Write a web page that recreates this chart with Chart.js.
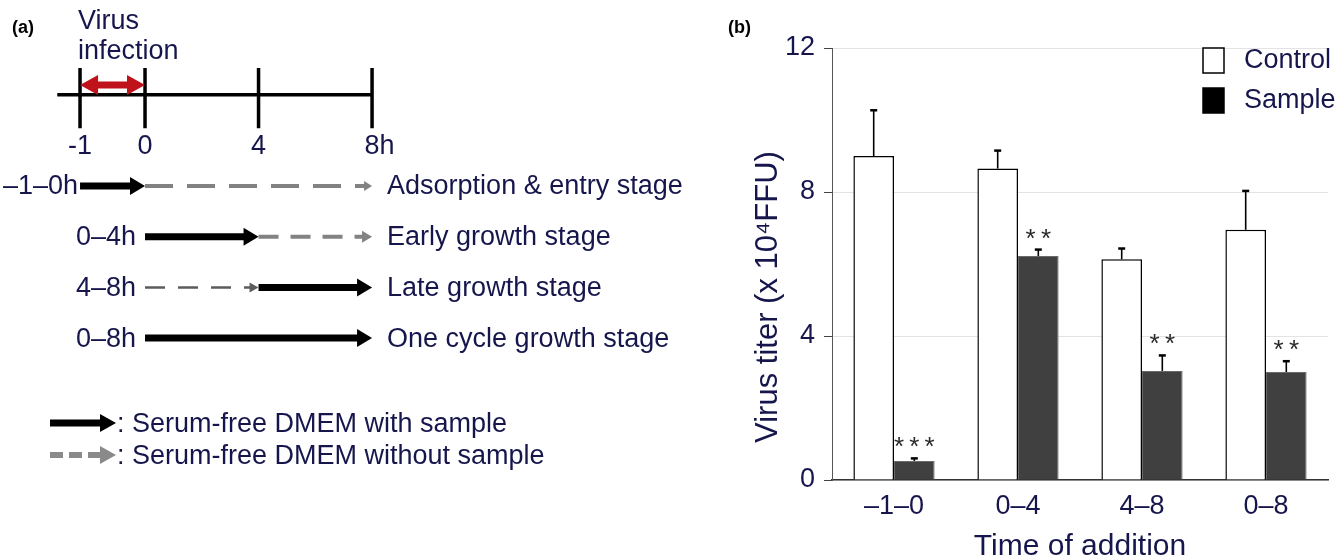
<!DOCTYPE html>
<html>
<head>
<meta charset="utf-8">
<script src="https://cdn.jsdelivr.net/npm/chart.js@4.4.1/dist/chart.umd.min.js"></script>
<style>
  html, body { margin: 0; padding: 0; background: #fff; overflow: hidden; }
  #wrap { position: relative; width: 1335px; height: 557px; }
  #chartA { position: absolute; left: 0; top: 0; }
  #chartB { position: absolute; left: 720px; top: 0; }
</style>
</head>
<body>
<div id="wrap">
  <canvas id="chartA" width="720" height="557" style="width:720px;height:557px"></canvas>
  <canvas id="chartB" width="615" height="570" style="width:615px;height:570px"></canvas>
</div>
<script>
// ---- panel (b) data ----
const periods = ['–1–0', '0–4', '4–8', '0–8']
const controlTiter = [9.0, 8.65, 6.13, 6.95]
const controlErr = [1.27, 0.5, 0.3, 1.08]
const sampleTiter = [0.53, 6.22, 3.03, 3.0]
const sampleErr = [0.07, 0.18, 0.43, 0.3]
const sampleSig = ['***', '**', '**', '**']
const titerTicks = [0, 4, 8, 12]

// ---- panel (a) data ----
const timePoints = [-1, 0, 4, 8]
const timeLabels = ['-1', '0', '4', '8h']
const stageNames = ['Adsorption & entry stage', 'Early growth stage', 'Late growth stage', 'One cycle growth stage']
const stageTimes = ['–1–0h', '0–4h', '4–8h', '0–8h']
const withSample = [[-1, 0], [0, 4], [4, 8], [0, 8]]
const withoutSample = [[0, 8], [4, 8], [0, 4], null]

const NAVY = '#16164d'
const FAMILY = "'Liberation Sans', Arial, Helvetica, sans-serif"
Chart.defaults.font.family = FAMILY

// the hour before infection is drawn wider than the hours after it
const PRE = 2.29
const pos = h => h < 0 ? h * PRE : h
const timelineY = -0.8
const rowY = [1, 2, 3, 4]

// shortens arrow lines so the head sits on the tip, then draws the heads
const arrowHeads = {
  id: 'arrowHeads',
  afterDatasetsUpdate(chart) {
    chart.data.datasets.forEach((ds, i) => {
      if (!ds.arrow) return
      const pts = chart.getDatasetMeta(i).data
      const a = pts[0], b = pts[pts.length - 1]
      ds.arrow.tip = {x: b.x, y: b.y}
      ds.arrow.tail = {x: a.x, y: a.y}
      const dir = Math.sign(b.x - a.x)
      b.x -= dir * (ds.arrow.len - 2)
      if (ds.arrow.both) a.x += dir * (ds.arrow.len - 2)
    })
  },
  afterDatasetsDraw(chart) {
    const ctx = chart.ctx
    const tri = (p, dir, len, half, color) => {
      ctx.beginPath()
      ctx.moveTo(p.x, p.y)
      ctx.lineTo(p.x - dir * len, p.y - half)
      ctx.lineTo(p.x - dir * len, p.y + half)
      ctx.closePath()
      ctx.fillStyle = color
      ctx.fill()
    }
    chart.data.datasets.forEach(ds => {
      if (!ds.arrow) return
      const {tip, tail, len, half, both} = ds.arrow
      const dir = Math.sign(tip.x - tail.x)
      tri(tip, dir, len, half, ds.borderColor)
      if (both) tri(tail, -dir, len, half, ds.borderColor)
    })
  }
}

function drawArrowGlyph(ctx, x0, x1, y, dashed) {
  ctx.save()
  if (dashed) {
    ctx.strokeStyle = '#8a8a8a'
    ctx.fillStyle = '#8a8a8a'
    ctx.lineWidth = 6
    ctx.setLineDash([13, 6])
  } else {
    ctx.strokeStyle = '#000'
    ctx.fillStyle = '#000'
    ctx.lineWidth = 7
  }
  ctx.beginPath()
  ctx.moveTo(x0, y)
  ctx.lineTo(x1 - 14, y)
  ctx.stroke()
  ctx.setLineDash([])
  ctx.beginPath()
  ctx.moveTo(x1, y)
  ctx.lineTo(x1 - 16, y - 9)
  ctx.lineTo(x1 - 16, y + 9)
  ctx.closePath()
  ctx.fill()
  ctx.restore()
}

const textA = {
  id: 'textA',
  afterDraw(chart) {
    const ctx = chart.ctx
    const xs = chart.scales.x, ys = chart.scales.y
    const ty = ys.getPixelForValue(timelineY)
    ctx.save()
    ctx.textBaseline = 'middle'
    ctx.fillStyle = '#000'
    ctx.font = 'bold 18px ' + FAMILY
    ctx.textAlign = 'left'
    ctx.fillText('(a)', 12, 28)

    ctx.fillStyle = NAVY
    ctx.font = '27px ' + FAMILY
    const infX = xs.getPixelForValue(pos(-1)) - 2
    ctx.fillText('Virus', infX, ty - 73)
    ctx.fillText('infection', infX, ty - 43)

    timeLabels.forEach((lbl, i) => {
      const w = ctx.measureText(lbl.replace('h', '')).width
      ctx.fillText(lbl, xs.getPixelForValue(pos(timePoints[i])) - w / 2, ty + 52)
    })

    const nameX = xs.getPixelForValue(pos(8)) + 15
    stageNames.forEach((name, i) => {
      const y = ys.getPixelForValue(rowY[i]) + 1
      ctx.textAlign = 'left'
      ctx.fillText(name, nameX, y)
      const starts = [withSample[i][0]]
      if (withoutSample[i]) starts.push(withoutSample[i][0])
      ctx.textAlign = 'right'
      ctx.fillText(stageTimes[i], xs.getPixelForValue(pos(Math.min(...starts))) - (i === 0 ? 2 : 9), y)
    })

    // legend of arrow styles
    const ly1 = ys.getPixelForValue(rowY[3]) + 85
    const ly2 = ly1 + 32
    drawArrowGlyph(ctx, 50, 116, ly1, false)
    drawArrowGlyph(ctx, 50, 116, ly2, true)
    ctx.textAlign = 'left'
    ctx.fillStyle = NAVY
    ctx.fillText(': Serum-free DMEM with sample', 117, ly1 + 1)
    ctx.fillText(': Serum-free DMEM without sample', 117, ly2 + 1)
    ctx.restore()
  }
}

const line = (pts, color, width, extra) => Object.assign({
  data: pts, borderColor: color, backgroundColor: color, borderWidth: width,
  showLine: true, pointRadius: 0, fill: false, tension: 0, borderCapStyle: 'butt'
}, extra || {})

const grayStyles = [
  {dash: [28, 14], width: 4, color: '#828282', len: 8, half: 5},
  {dash: [20, 12], width: 4, color: '#828282', len: 10, half: 6},
  {dash: [20, 13], width: 2.5, color: '#5c5c5c', len: 9, half: 5}
]

const datasetsA = []
datasetsA.push(line([{x: pos(-1.35), y: timelineY}, {x: pos(8), y: timelineY}], '#000', 3.5))
timePoints.forEach(h => {
  datasetsA.push(line([{x: pos(h), y: timelineY - 0.53}, {x: pos(h), y: timelineY + 0.66}], '#000', 3.5))
})
datasetsA.push(line([{x: pos(-1), y: timelineY - 0.19}, {x: pos(0), y: timelineY - 0.19}], '#c0121a', 7,
  {arrow: {len: 18, half: 10, both: true}}))
withoutSample.forEach((seg, i) => {
  if (!seg) return
  const st = grayStyles[i]
  datasetsA.push(line([{x: pos(seg[0]), y: rowY[i]}, {x: pos(seg[1]), y: rowY[i]}], st.color, st.width,
    {borderDash: st.dash, arrow: {len: st.len, half: st.half}}))
})
withSample.forEach((seg, i) => {
  datasetsA.push(line([{x: pos(seg[0]), y: rowY[i]}, {x: pos(seg[1]), y: rowY[i]}], '#000', 7,
    {arrow: {len: 15, half: 9}}))
})

new Chart(document.getElementById('chartA'), {
  type: 'scatter',
  data: {datasets: datasetsA},
  options: {
    responsive: false,
    animation: false,
    events: [],
    layout: {padding: 0},
    plugins: {legend: {display: false}, tooltip: {enabled: false}},
    scales: {
      x: {type: 'linear', display: false, min: -5.11, max: 20.26},
      y: {type: 'linear', display: false, reverse: true, min: -2.669, max: 8.318}
    }
  },
  plugins: [arrowHeads, textA]
})

// ---- panel (b) ----
const errorBars = {
  id: 'errorBars',
  afterDatasetsDraw(chart) {
    const ctx = chart.ctx, ys = chart.scales.y
    ctx.save()
    chart.data.datasets.forEach((ds, i) => {
      chart.getDatasetMeta(i).data.forEach((bar, j) => {
        const top = ys.getPixelForValue(ds.data[j] + ds.errors[j])
        ctx.strokeStyle = '#000'
        ctx.lineWidth = 1.6
        ctx.beginPath()
        ctx.moveTo(bar.x, bar.y)
        ctx.lineTo(bar.x, top)
        ctx.stroke()
        ctx.lineWidth = 2.5
        ctx.beginPath()
        ctx.moveTo(bar.x - 3.5, top)
        ctx.lineTo(bar.x + 3.5, top)
        ctx.stroke()
        if (ds.marks) {
          ctx.fillStyle = '#2a2a2a'
          ctx.font = '26px ' + FAMILY
          ctx.textAlign = 'center'
          ctx.textBaseline = 'alphabetic'
          ctx.fillText(ds.marks[j].split('').join('\u2009'), bar.x, top - 3)
        }
      })
    })
    ctx.restore()
  }
}

const decorB = {
  id: 'decorB',
  afterDraw(chart) {
    const ctx = chart.ctx, area = chart.chartArea
    ctx.save()
    ctx.fillStyle = '#000'
    ctx.font = 'bold 18px ' + FAMILY
    ctx.textBaseline = 'middle'
    ctx.textAlign = 'left'
    ctx.fillText('(b)', 8, 28)

    // legend
    const bx = area.right - 125
    chart.data.datasets.forEach((ds, i) => {
      const by = area.top + i * 40
      ctx.fillStyle = ds.legendColor || ds.backgroundColor
      ctx.fillRect(bx, by, 21, 25)
      ctx.strokeStyle = '#000'
      ctx.lineWidth = 1.5
      ctx.strokeRect(bx, by, 21, 25)
      ctx.fillStyle = NAVY
      ctx.font = '27px ' + FAMILY
      ctx.fillText(ds.label, bx + 41, by + 13)
    })

    // y axis title
    ctx.translate(48, 297)
    ctx.rotate(-Math.PI / 2)
    ctx.textAlign = 'center'
    ctx.fillStyle = NAVY
    ctx.font = '31px ' + FAMILY
    ctx.fillText('Virus titer (x 10⁴FFU)', 0, 0)
    ctx.restore()
  }
}

new Chart(document.getElementById('chartB'), {
  type: 'bar',
  data: {
    labels: periods,
    datasets: [
      {label: 'Control', data: controlTiter, errors: controlErr,
        backgroundColor: '#ffffff', borderColor: '#000000', borderWidth: 1.5},
      {label: 'Sample', data: sampleTiter, errors: sampleErr, marks: sampleSig,
        backgroundColor: '#404040', borderColor: '#6a6a6a', borderWidth: 1, legendColor: '#000000'}
    ]
  },
  options: {
    responsive: false,
    animation: false,
    events: [],
    layout: {padding: {left: 0, top: 48, right: 7, bottom: 0}},
    datasets: {bar: {categoryPercentage: 0.655, barPercentage: 1}},
    plugins: {legend: {display: false}, tooltip: {enabled: false}},
    scales: {
      x: {
        grid: {display: false, drawTicks: false},
        border: {color: '#333', width: 1.5},
        ticks: {color: NAVY, font: {size: 27}, padding: 10},
        title: {display: true, text: 'Time of addition', color: NAVY, font: {size: 30}, padding: {top: 0, bottom: 5}},
        afterFit: s => { s.height = 90 }
      },
      y: {
        min: 0, max: 12,
        afterBuildTicks: s => { s.ticks = titerTicks.map(v => ({value: v})) },
        grid: {color: '#e3e3e3', tickColor: '#444', tickLength: 8},
        border: {color: '#555', width: 1},
        ticks: {color: NAVY, font: {size: 27}, padding: 9},
        afterFit: s => { s.width = 112 }
      }
    }
  },
  plugins: [errorBars, decorB]
})
</script>
</body>
</html>
